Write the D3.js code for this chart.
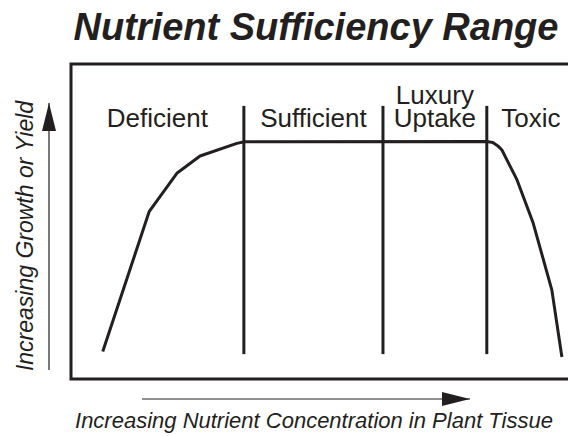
<!DOCTYPE html>
<html lang="en">
<head>
    <meta charset="UTF-8">
    <title>Nutrient Sufficiency Range</title>
    <script src="https://d3js.org/d3.v7.min.js"></script>
    <style>
        body { margin: 0; background: #fff; font-family: "Liberation Sans", Arial, Helvetica, sans-serif; }
        svg text { fill: #231f20; }
    </style>
</head>
<body>
    <div id="chart"></div>
    <script>
        // zones along the concentration axis (0-100, arbitrary units)
        const zoneLabels = [["Deficient"], ["Sufficient"], ["Luxury", "Uptake"], ["Toxic"]];
        const zoneEdges = [0, 34.3, 61.9, 82.5, 100];

        // response curve: concentration vs growth (both 0-100)
        const concentration = [6.3, 15.5, 21.0, 25.6, 32.9, 34.4, 82.5, 83.7, 84.7, 85.5, 88.5, 91.7, 95.4, 97.4];
        const growth =        [8.7, 53.1, 65.3, 70.8, 74.8, 75.3, 75.4, 75.1, 74.0, 72.7, 63.2, 49.5, 28.3, 7.0];

        const dividerSpan = [7.9, 86.7];

        const width = 568, height = 436;
        const ink = "#231f20";

        const svg = d3.select("#chart").append("svg")
            .attr("width", width)
            .attr("height", height);

        const x = d3.scaleLinear().domain([0, 100]).range([71, 575]);
        const y = d3.scaleLinear().domain([0, 100]).range([379, 64]);

        // title
        svg.append("text")
            .attr("x", 316)
            .attr("y", 40)
            .attr("text-anchor", "middle")
            .style("font-size", "38px")
            .style("font-weight", "bold")
            .style("font-style", "italic")
            .text("Nutrient Sufficiency Range");

        // frame (right side runs off the page)
        svg.append("rect")
            .attr("x", x(0))
            .attr("y", y(100))
            .attr("width", x(100) - x(0))
            .attr("height", y(0) - y(100))
            .attr("fill", "none")
            .attr("stroke", ink)
            .attr("stroke-width", 3);

        // zone dividers
        svg.selectAll(".divider")
            .data(zoneEdges.slice(1, -1))
            .enter().append("line")
            .attr("class", "divider")
            .attr("x1", d => x(d))
            .attr("x2", d => x(d))
            .attr("y1", y(dividerSpan[0]))
            .attr("y2", y(dividerSpan[1]))
            .attr("stroke", ink)
            .attr("stroke-width", 3);

        // zone labels
        const zones = svg.selectAll(".zone")
            .data(zoneLabels)
            .enter().append("text")
            .attr("class", "zone")
            .attr("text-anchor", "middle")
            .style("font-size", "26px");

        zones.each(function(lines, i) {
            const cx = (x(zoneEdges[i]) + x(zoneEdges[i + 1])) / 2;
            const t = d3.select(this);
            lines.forEach((s, j) => {
                t.append("tspan")
                    .attr("x", cx)
                    .attr("y", 127 - (lines.length - 1 - j) * 23)
                    .text(s);
            });
        });

        // response curve
        const pts = concentration.map((c, i) => [c, growth[i]]);
        svg.append("path")
            .datum(pts)
            .attr("fill", "none")
            .attr("stroke", ink)
            .attr("stroke-width", 3)
            .attr("stroke-linejoin", "round")
            .attr("d", d3.line().x(d => x(d[0])).y(d => y(d[1])));

        // axis arrows
        svg.append("defs").append("marker")
            .attr("id", "head")
            .attr("viewBox", "0 0 28 14")
            .attr("refX", 28)
            .attr("refY", 7)
            .attr("markerWidth", 28)
            .attr("markerHeight", 14)
            .attr("markerUnits", "userSpaceOnUse")
            .attr("orient", "auto")
            .append("path")
            .attr("d", "M0,0L28,7L0,14Z")
            .attr("fill", ink);

        svg.append("line")
            .attr("x1", 49).attr("y1", 370)
            .attr("x2", 49).attr("y2", 103)
            .attr("stroke", ink)
            .attr("stroke-width", 1.2)
            .attr("marker-end", "url(#head)");

        svg.append("line")
            .attr("x1", 142).attr("y1", 399)
            .attr("x2", 470).attr("y2", 399)
            .attr("stroke", ink)
            .attr("stroke-width", 1.2)
            .attr("marker-end", "url(#head)");

        // axis labels
        svg.append("text")
            .attr("transform", "translate(33,236) rotate(-90)")
            .attr("text-anchor", "middle")
            .style("font-size", "23px")
            .style("font-style", "italic")
            .text("Increasing Growth or Yield");

        svg.append("text")
            .attr("x", 314)
            .attr("y", 428)
            .attr("text-anchor", "middle")
            .style("font-size", "22px")
            .style("font-style", "italic")
            .text("Increasing Nutrient Concentration in Plant Tissue");
    </script>
</body>
</html>
